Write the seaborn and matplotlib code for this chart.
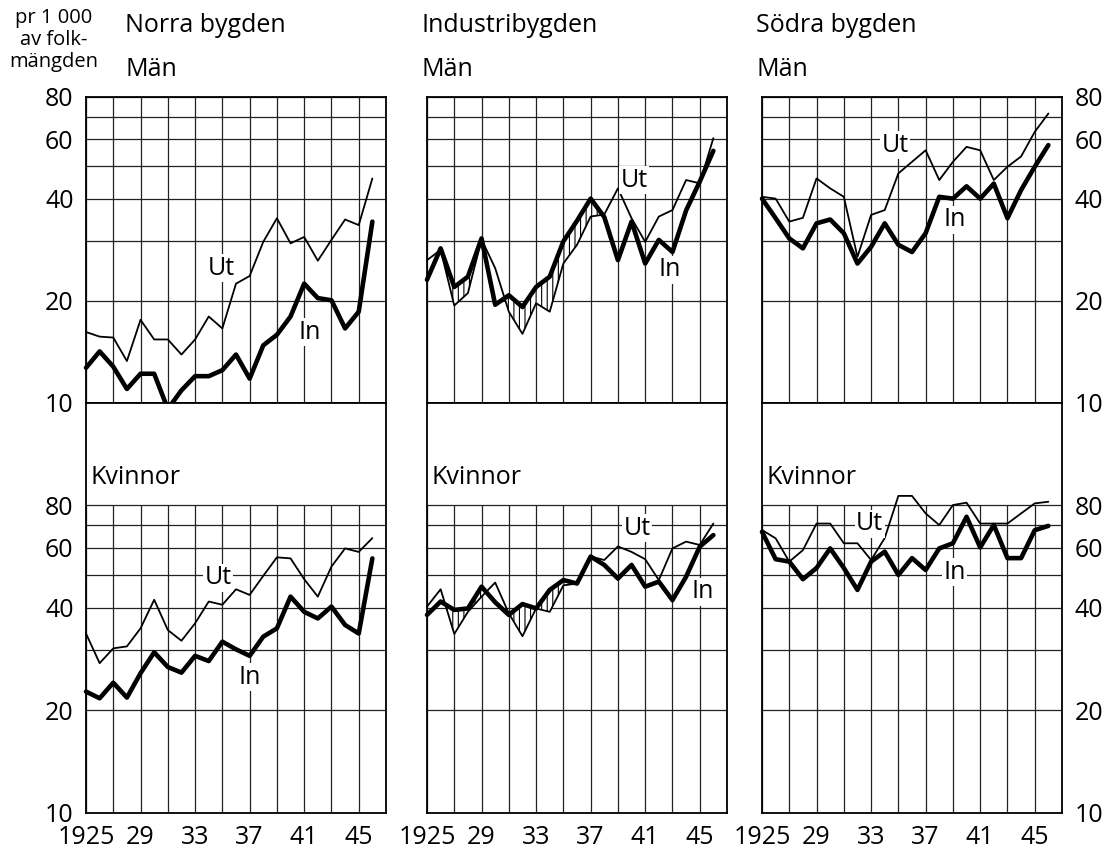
import numpy as np
import pandas as pd
import matplotlib
matplotlib.use("Agg")
import matplotlib.pyplot as plt
import seaborn as sns

years = list(range(1925, 1947))

norra_man_ut = [16.2, 15.7, 15.6, 13.3, 17.6, 15.4, 15.4, 13.9, 15.4, 18.0, 16.6, 22.5, 23.7, 29.9, 35.1, 29.6, 30.9, 26.3, 30.3, 34.8, 33.5, 46.0]
norra_man_in = [12.7, 14.2, 12.8, 11.0, 12.2, 12.2, 9.6, 10.9, 12.0, 12.0, 12.5, 13.9, 11.8, 14.8, 15.9, 18.0, 22.5, 20.4, 20.1, 16.6, 18.6, 34.3]
industri_man_ut = [26.4, 28.3, 19.4, 21.1, 30.4, 25.0, 18.6, 16.0, 19.7, 18.6, 25.8, 29.3, 35.5, 36.0, 43.0, 35.1, 29.9, 35.5, 37.1, 45.5, 44.5, 60.5]
industri_man_in = [23.1, 28.6, 22.0, 23.6, 30.6, 19.5, 20.8, 19.2, 22.0, 23.6, 30.0, 34.5, 40.1, 35.4, 26.4, 34.3, 25.8, 30.3, 27.9, 37.0, 45.0, 55.5]
sodra_man_ut = [40.6, 40.1, 34.3, 35.2, 46.0, 43.0, 40.6, 27.0, 35.9, 37.1, 47.6, 51.5, 55.7, 45.5, 51.5, 57.0, 55.7, 45.5, 49.8, 53.4, 63.1, 71.5]
sodra_man_in = [40.1, 35.1, 30.6, 28.6, 33.9, 34.8, 31.7, 25.8, 28.9, 33.9, 29.3, 27.9, 31.7, 40.6, 40.1, 43.6, 40.1, 44.4, 35.1, 42.5, 49.8, 57.7]

norra_kv_ut = [33.6, 27.5, 30.4, 30.8, 34.8, 42.2, 34.4, 32.0, 36.0, 41.7, 40.8, 45.3, 43.6, 49.6, 56.2, 55.8, 48.5, 43.1, 52.8, 59.7, 58.3, 64.0]
norra_kv_in = [22.7, 21.7, 24.1, 21.8, 25.7, 29.6, 26.8, 25.8, 28.9, 27.9, 31.8, 30.2, 28.9, 32.9, 34.8, 43.1, 38.9, 37.2, 40.3, 35.6, 33.6, 55.8]
industri_kv_ut = [40.3, 45.3, 33.5, 38.9, 43.1, 47.4, 38.5, 33.0, 39.8, 38.9, 46.5, 47.1, 56.5, 55.2, 60.5, 58.3, 55.5, 48.2, 59.7, 62.5, 61.1, 70.6]
industri_kv_in = [38.1, 41.7, 39.4, 39.8, 46.1, 41.5, 38.1, 41.0, 39.8, 45.1, 48.2, 47.1, 56.5, 53.4, 48.7, 53.4, 46.1, 47.7, 42.1, 49.3, 60.4, 65.3]
sodra_kv_ut = [67.6, 63.9, 54.6, 59.0, 70.6, 70.6, 61.8, 61.8, 55.2, 64.0, 85.1, 85.1, 75.6, 69.9, 80.0, 81.3, 70.6, 70.6, 70.6, 75.6, 80.9, 81.8]
sodra_kv_in = [66.8, 55.5, 54.6, 48.5, 52.3, 59.7, 52.3, 45.1, 54.6, 58.4, 49.9, 55.9, 51.6, 59.7, 61.8, 73.9, 60.1, 69.9, 55.9, 55.9, 67.5, 69.5]

regions = ["Norra bygden", "Industribygden", "Södra bygden"]
man_series = [(norra_man_ut, norra_man_in), (industri_man_ut, industri_man_in), (sodra_man_ut, sodra_man_in)]
kv_series = [(norra_kv_ut, norra_kv_in), (industri_kv_ut, industri_kv_in), (sodra_kv_ut, sodra_kv_in)]

# label anchors (year, value)
man_labels = [((1934.9, 25.0), (1941.4, 16.2)), ((1940.2, 45.5), (1942.8, 24.7)), ((1934.75, 57.7), (1939.1, 34.7))]
kv_labels = [((1934.7, 48.9), (1937.0, 25.0)), ((1940.4, 68.5), (1945.2, 44.5)), ((1932.9, 70.4), (1939.1, 50.9))]

ytick_vals = [10, 20, 30, 40, 50, 60, 70, 80]
ytick_labels = ["10", "20", "", "40", "", "60", "", "80"]
xgrid = list(range(1925, 1948, 2))
xtick_labels = ["1925", "", "29", "", "33", "", "37", "", "41", "", "45", ""]
unit_lines = ["pr 1 000", "av folk-", "mängden"]

sns.set_theme(style="white")
plt.rcParams['font.family'] = ['Open Sans', 'DejaVu Sans']
plt.rcParams['hatch.linewidth'] = 0.8
plt.rcParams['hatch.color'] = 'black'
for key in ['text.color', 'xtick.color', 'ytick.color', 'axes.labelcolor']:
    plt.rcParams[key] = 'black'

W, H = 1107, 852
fig = plt.figure(figsize=(W / 100, H / 100), dpi=100)
fig.patch.set_facecolor("white")

def rect(x0, y0, x1, y1):
    return [x0 / W, 1 - y1 / H, (x1 - x0) / W, (y1 - y0) / H]

lefts = [86, 427, 762]
FS = 18
GRID = dict(color="#222222", linewidth=0.9)

def draw_panel(ax, ut, inn, labels, bottom):
    df = pd.DataFrame({"År": years + years,
                       "Värde": ut + inn,
                       "Serie": ["Ut"] * len(years) + ["In"] * len(years)})
    ax.set_yscale("log")
    sns.lineplot(data=df[df.Serie == "Ut"], x="År", y="Värde", ax=ax, color="black",
                 linewidth=1.3, legend=False, clip_on=False, zorder=4)
    sns.lineplot(data=df[df.Serie == "In"], x="År", y="Värde", ax=ax, color="black",
                 linewidth=3.3, legend=False, clip_on=False, zorder=5)
    u = np.array(ut); i = np.array(inn)
    ax.fill_between(years, u, i, where=i > u, interpolate=True, facecolor="white",
                    edgecolor="black", hatch="|||", linewidth=0, zorder=3)
    ax.set_xlim(1925, 1947)
    if bottom:
        ax.set_ylim(10, 10 ** (1 + 410 / 341))
    else:
        ax.set_ylim(10, 80)
    ax.vlines(xgrid, 10, 80, zorder=1, **GRID)
    ax.hlines(ytick_vals, 1925, 1947, zorder=1, **GRID)
    ax.set_yticks(ytick_vals)
    ax.yaxis.set_minor_locator(matplotlib.ticker.NullLocator())
    ax.set_xticks(xgrid)
    ax.set_xlabel(""); ax.set_ylabel("")
    ax.tick_params(length=0, labelsize=FS, pad=9, labelcolor="black")
    for s in ax.spines.values():
        s.set_visible(True); s.set_color("black"); s.set_linewidth(1.3)
    (ux, uy), (ix, iy) = labels
    bb = dict(facecolor="white", edgecolor="none", pad=1)
    ax.text(ux, uy, "Ut", fontsize=FS, ha="center", va="center", bbox=bb, zorder=6, color="black")
    ax.text(ix, iy, "In", fontsize=FS, ha="center", va="center", bbox=bb, zorder=6, color="black")

for c in range(3):
    L = lefts[c]
    axt = fig.add_axes(rect(L, 97, L + 300, 403))
    axb = fig.add_axes(rect(L, 403, L + 300, 813))
    draw_panel(axt, list(man_series[c][0]), list(man_series[c][1]), man_labels[c], False)
    draw_panel(axb, list(kv_series[c][0]), list(kv_series[c][1]), kv_labels[c], True)
    axt.set_xticklabels([])
    axb.set_xticklabels(xtick_labels)
    for ax in (axt, axb):
        if c == 0:
            ax.set_yticklabels(ytick_labels)
        elif c == 2:
            ax.yaxis.tick_right()
            ax.set_yticklabels(ytick_labels)
        else:
            ax.set_yticklabels([])
    tx = (L + 39) if c == 0 else (L - 6)
    fig.text(tx / W, 1 - 25 / H, regions[c], fontsize=FS, ha="left", va="center", color="black")
    fig.text(tx / W, 1 - 70 / H, "Män", fontsize=FS, ha="left", va="center", color="black")
    axb.text(0.015, 1 - (478 - 403) / 410, "Kvinnor", transform=axb.transAxes,
             fontsize=FS, ha="left", va="center", color="black")

for k, line in enumerate(unit_lines):
    fig.text(54 / W, 1 - (18 + 22 * k) / H, line, fontsize=14.5, ha="center", va="center", color="black")

fig.savefig("out.png", dpi=100, facecolor="white")
